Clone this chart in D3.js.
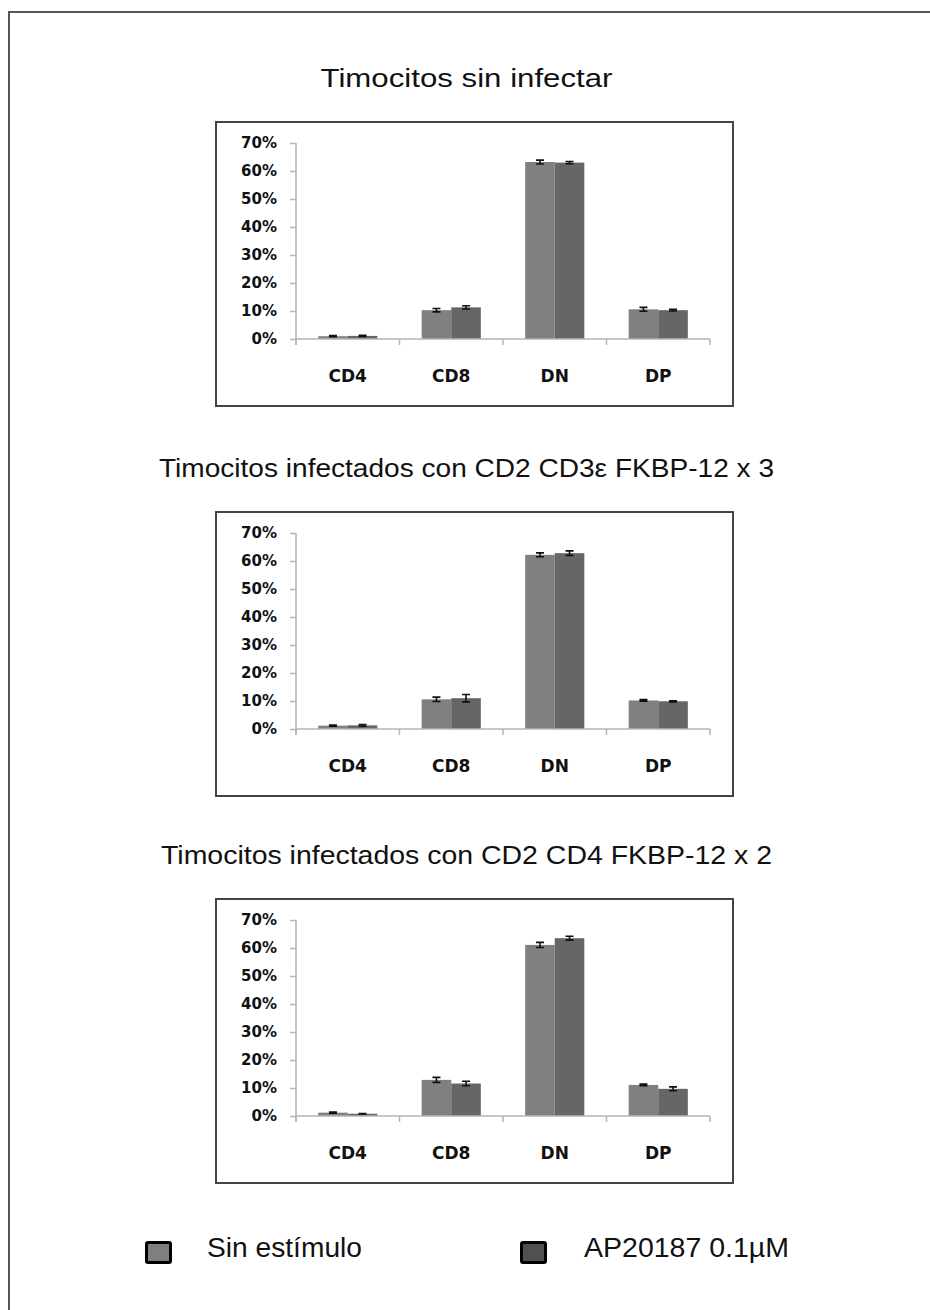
<!DOCTYPE html>
<html>
<head>
<meta charset="utf-8">
<script src="https://cdn.jsdelivr.net/npm/d3@7"></script>
<style>
  html, body { margin: 0; padding: 0; background: #fff; }
  svg { display: block; }
</style>
</head>
<body>
<svg id="fig" width="930" height="1310"></svg>
<script>
// Thymocyte subsets, mean fraction with error (SD) per condition
const categories = ["CD4", "CD8", "DN", "DP"];
const seriesNames = ["Sin estímulo", "AP20187 0.1µM"];
const seriesColors = ["#808080", "#666666"];
const legendColors = ["#7f7f7f", "#505050"];
const yTicks = [0, 0.1, 0.2, 0.3, 0.4, 0.5, 0.6, 0.7];

const panelTitles = [
  "Timocitos sin infectar",
  "Timocitos infectados con CD2 CD3\u03b5 FKBP-12 x 3",
  "Timocitos infectados con CD2 CD4 FKBP-12 x 2"
];

// panel 1: uninfected
const uninfectedSin = [0.010, 0.103, 0.632, 0.106];
const uninfectedSinErr = [0.002, 0.006, 0.007, 0.007];
const uninfectedAP = [0.011, 0.113, 0.630, 0.103];
const uninfectedAPErr = [0.002, 0.006, 0.004, 0.003];

// panel 2: CD2 CD3e FKBP-12 x3
const cd3eSin = [0.012, 0.106, 0.622, 0.102];
const cd3eSinErr = [0.002, 0.008, 0.007, 0.003];
const cd3eAP = [0.013, 0.110, 0.628, 0.099];
const cd3eAPErr = [0.003, 0.013, 0.008, 0.002];

// panel 3: CD2 CD4 FKBP-12 x2
const cd4Sin = [0.012, 0.129, 0.611, 0.111];
const cd4SinErr = [0.002, 0.009, 0.009, 0.003];
const cd4AP = [0.008, 0.116, 0.635, 0.097];
const cd4APErr = [0.0005, 0.008, 0.007, 0.007];

const panels = [
  { title: panelTitles[0], values: [uninfectedSin, uninfectedAP], errors: [uninfectedSinErr, uninfectedAPErr] },
  { title: panelTitles[1], values: [cd3eSin, cd3eAP], errors: [cd3eSinErr, cd3eAPErr] },
  { title: panelTitles[2], values: [cd4Sin, cd4AP], errors: [cd4SinErr, cd4APErr] }
];

// layout
const panelTops = [122, 512, 899];
const titleWidths = [292, 615, 611];
const boxX = 216, boxW = 517, boxH = 284;
const plotLeft = 296, plotRight = 710;
const plotTopOff = 21, plotBaseOff = 217;

const svg = d3.select("#fig");

// outer frame: top and left rules
svg.append("path")
  .attr("d", "M9,1310 V12 H930")
  .attr("fill", "none")
  .attr("stroke", "#555")
  .attr("stroke-width", 2);

const x0 = d3.scaleBand().domain(categories).range([plotLeft, plotRight]).paddingInner(0).paddingOuter(0);
// Excel-style gap width of 150%
const groupW = x0.bandwidth() * 2 / 3.5;
const x1 = d3.scaleBand().domain(d3.range(seriesNames.length)).range([0, groupW]);

panels.forEach((p, i) => {
  const top = panelTops[i];
  const g = svg.append("g");

  // title above the box
  g.append("text")
    .attr("x", boxX + boxW / 2 - 8)
    .attr("y", top - 35)
    .attr("text-anchor", "middle")
    .attr("font-family", "Liberation Sans, Arial, sans-serif")
    .attr("font-size", 26)
    .attr("textLength", titleWidths[i])
    .attr("lengthAdjust", "spacingAndGlyphs")
    .attr("fill", "#111")
    .text(p.title);

  // chart frame
  g.append("rect")
    .attr("x", boxX).attr("y", top)
    .attr("width", boxW).attr("height", boxH)
    .attr("fill", "#fff")
    .attr("stroke", "#444")
    .attr("stroke-width", 2);

  const y = d3.scaleLinear().domain([0, 0.7]).range([top + plotBaseOff, top + plotTopOff]);

  // y axis
  const yAxis = g.append("g")
    .attr("transform", `translate(${plotLeft},0)`)
    .call(d3.axisLeft(y).tickValues(yTicks).tickFormat(d3.format(".0%")).tickSize(6).tickPadding(13));
  yAxis.select(".domain").remove();
  yAxis.selectAll(".tick line").attr("stroke", "#b5b5b5").attr("stroke-width", 1.5);
  yAxis.selectAll(".tick text")
    .attr("font-family", "DejaVu Sans, Verdana, sans-serif")
    .attr("font-weight", "bold")
    .attr("font-size", 15)
    .attr("fill", "#111");

  // bars
  categories.forEach((c, ci) => {
    const gx = x0(c) + (x0.bandwidth() - groupW) / 2;
    seriesNames.forEach((s, si) => {
      const v = p.values[si][ci];
      g.append("rect")
        .attr("x", gx + x1(si))
        .attr("y", y(v))
        .attr("width", x1.bandwidth())
        .attr("height", y(0) - y(v))
        .attr("fill", seriesColors[si]);
    });
  });

  // error bars
  categories.forEach((c, ci) => {
    const gx = x0(c) + (x0.bandwidth() - groupW) / 2;
    seriesNames.forEach((s, si) => {
      const v = p.values[si][ci], e = p.errors[si][ci];
      const cx = gx + x1(si) + x1.bandwidth() / 2;
      const yT = y(v + e), yB = y(v - e);
      g.append("path")
        .attr("d", `M${cx},${yT}V${yB}M${cx - 4},${yT}H${cx + 4}M${cx - 4},${yB}H${cx + 4}`)
        .attr("fill", "none")
        .attr("stroke", "#111")
        .attr("stroke-width", 1.6);
    });
  });

  // x axis line with boundary ticks
  const base = y(0);
  const bounds = [plotLeft].concat(categories.map(c => x0(c) + x0.bandwidth()));
  g.append("line")
    .attr("x1", plotLeft).attr("x2", plotRight)
    .attr("y1", base).attr("y2", base)
    .attr("stroke", "#b5b5b5").attr("stroke-width", 1.5);
  g.append("line")
    .attr("x1", plotLeft).attr("x2", plotLeft)
    .attr("y1", y(0.7)).attr("y2", base + 6)
    .attr("stroke", "#b5b5b5").attr("stroke-width", 1.5);
  g.selectAll(null).data(bounds).join("line")
    .attr("x1", d => d).attr("x2", d => d)
    .attr("y1", base).attr("y2", base + 6)
    .attr("stroke", "#b5b5b5").attr("stroke-width", 1.5);

  // category labels
  g.selectAll(null).data(categories).join("text")
    .attr("x", d => x0(d) + x0.bandwidth() / 2)
    .attr("y", base + 43)
    .attr("text-anchor", "middle")
    .attr("font-family", "DejaVu Sans, Verdana, sans-serif")
    .attr("font-weight", "bold")
    .attr("font-size", 17)
    .attr("fill", "#111")
    .text(d => d);
});

// legend
const legendX = [145, 520];
const legendTextX = [207, 584];
const legendTextW = [155, 205];
seriesNames.forEach((s, i) => {
  svg.append("rect")
    .attr("x", legendX[i] + 1.5).attr("y", 1242.5)
    .attr("width", 24).attr("height", 20)
    .attr("rx", 1.5)
    .attr("fill", legendColors[i])
    .attr("stroke", "#000")
    .attr("stroke-width", 3);
  svg.append("text")
    .attr("x", legendTextX[i])
    .attr("y", 1257)
    .attr("font-family", "Liberation Sans, Arial, sans-serif")
    .attr("font-size", 27)
    .attr("textLength", legendTextW[i])
    .attr("lengthAdjust", "spacingAndGlyphs")
    .attr("fill", "#111")
    .text(s);
});
</script>
</body>
</html>
